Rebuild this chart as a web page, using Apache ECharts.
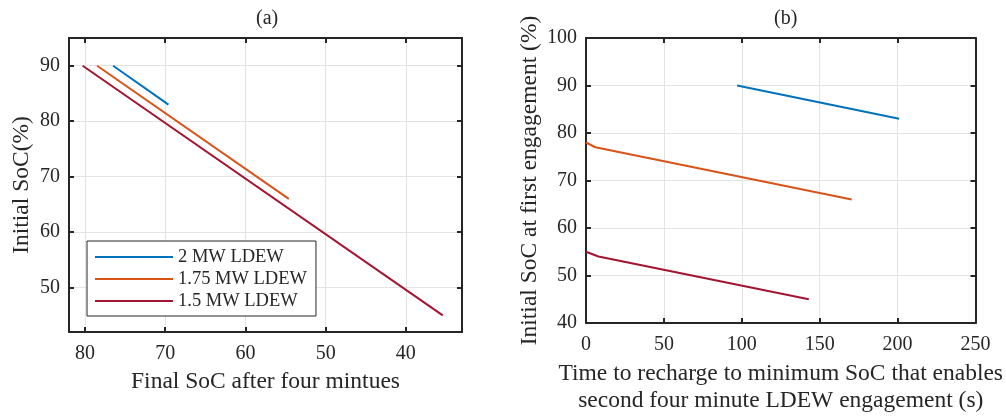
<!DOCTYPE html>
<html>
<head>
<meta charset="utf-8">
<script src="https://cdn.jsdelivr.net/npm/echarts@6/dist/echarts.min.js"></script>
<style>
html,body{margin:0;padding:0;background:#fff;}
#chart{width:1006px;height:419px;}
</style>
</head>
<body>
<div id="chart"></div>
<script>
// ---- Data ----
const seriesNames = ['2 MW LDEW', '1.75 MW LDEW', '1.5 MW LDEW'];
const colors = ['#0072BD', '#D95319', '#A2142F'];

// Panel (a): Final SoC after four minutes (x) vs Initial SoC (y)
const a_2MW_x = [76.5, 69.6];
const a_2MW_y = [90, 83];
const a_175MW_x = [78.5, 54.6];
const a_175MW_y = [90, 66];
const a_15MW_x = [80.3, 35.4];
const a_15MW_y = [90, 45];

// Panel (b): Recharge time (s) vs Initial SoC at first engagement
const b_2MW_x = [97, 201];
const b_2MW_y = [90, 83];
const b_175MW_x = [0, 6, 170.5];
const b_175MW_y = [78, 77, 66];
const b_15MW_x = [0, 8, 143];
const b_15MW_y = [55, 54, 45];

// tick labels
const a_xTicks = [40, 50, 60, 70, 80];
const a_yTicks = [50, 60, 70, 80, 90];

const zip = (xs, ys) => xs.map((x, i) => [x, ys[i]]);

const FONT = "'Liberation Serif', 'DejaVu Serif', serif";
const TXT = '#262626';
const GRIDC = '#e3e3e3';

const chart = echarts.init(document.getElementById('chart'), null, {renderer: 'canvas'});

function axisCommon(extra) {
  return Object.assign({
    type: 'value',
    axisLine: {show: true, onZero: false, lineStyle: {color: TXT, width: 2}},
    axisTick: {show: true, inside: true, length: 5, lineStyle: {color: TXT, width: 2}},
    axisLabel: {show: true, color: TXT, fontFamily: FONT, fontSize: 20},
    splitLine: {show: false},
    nameTextStyle: {color: TXT, fontFamily: FONT, fontSize: 23.5}
  }, extra);
}

const a_x_main = axisCommon({gridIndex: 0, position: 'bottom', min: 33, max: 82, inverse: true,
  name: 'Final SoC after four mintues', nameLocation: 'middle', nameGap: 38});
a_x_main.axisTick = Object.assign({}, a_x_main.axisTick, {customValues: a_xTicks});
a_x_main.axisLabel = Object.assign({}, a_x_main.axisLabel, {customValues: a_xTicks, margin: 12});
a_x_main.splitLine = {show: true, lineStyle: {color: GRIDC, width: 1}};

const a_x_top = axisCommon({gridIndex: 0, position: 'top', min: 33, max: 82, inverse: true});
a_x_top.axisTick = Object.assign({}, a_x_top.axisTick, {customValues: a_xTicks});
a_x_top.axisLabel = {show: false};

const a_y_main = axisCommon({gridIndex: 0, position: 'left', min: 42, max: 95,
  name: 'Initial SoC(%)', nameLocation: 'middle', nameGap: 35});
a_y_main.axisTick = Object.assign({}, a_y_main.axisTick, {customValues: a_yTicks});
a_y_main.axisLabel = Object.assign({}, a_y_main.axisLabel, {customValues: a_yTicks, margin: 9});
a_y_main.splitLine = {show: true, lineStyle: {color: GRIDC, width: 1}};

const a_y_right = axisCommon({gridIndex: 0, position: 'right', min: 42, max: 95});
a_y_right.axisTick = Object.assign({}, a_y_right.axisTick, {customValues: a_yTicks});
a_y_right.axisLabel = {show: false};

const b_x_main = axisCommon({gridIndex: 1, position: 'bottom', min: 0, max: 250, interval: 50,
  name: 'Time to recharge to minimum SoC that enables\nsecond four minute LDEW engagement (s)',
  nameLocation: 'middle', nameGap: 37});
b_x_main.nameTextStyle = Object.assign({}, b_x_main.nameTextStyle, {lineHeight: 27});
b_x_main.axisLabel.margin = 12;
b_x_main.splitLine = {show: true, lineStyle: {color: GRIDC, width: 1}};

const b_x_top = axisCommon({gridIndex: 1, position: 'top', min: 0, max: 250, interval: 50});
b_x_top.axisLabel = {show: false};

const b_y_main = axisCommon({gridIndex: 1, position: 'left', min: 40, max: 100, interval: 10,
  name: 'Initial SoC at first engagement (%)', nameLocation: 'middle', nameGap: 44});
b_y_main.axisLabel.margin = 9;
b_y_main.splitLine = {show: true, lineStyle: {color: GRIDC, width: 1}};

const b_y_right = axisCommon({gridIndex: 1, position: 'right', min: 40, max: 100, interval: 10});
b_y_right.axisLabel = {show: false};

function line(name, idx, data, xi, yi) {
  return {
    name: name, type: 'line', xAxisIndex: xi, yAxisIndex: yi,
    data: data, symbol: 'none', showSymbol: false, animation: false,
    lineStyle: {color: colors[idx], width: 2}, itemStyle: {color: colors[idx]}
  };
}

const option = {
  backgroundColor: '#fff',
  animation: false,
  grid: [
    {left: 69, top: 38, width: 393, height: 294, containLabel: false},
    {left: 586, top: 38, width: 394, height: 294, containLabel: false}
  ],
  xAxis: [a_x_main, a_x_top, b_x_main, b_x_top],
  yAxis: [a_y_main, a_y_right, b_y_main, b_y_right],
  legend: {
    data: seriesNames,
    orient: 'vertical',
    left: 87, top: 241,
    icon: 'rect',
    itemWidth: 78, itemHeight: 2, itemGap: 0,
    padding: [5, 9, 4, 8],
    borderColor: TXT, borderWidth: 1, borderRadius: 0,
    backgroundColor: '#fff',
    textStyle: {color: TXT, fontFamily: FONT, fontSize: 18.5, lineHeight: 22},
    selectedMode: false
  },
  graphic: [
    {type: 'text', left: 256, top: 9, style: {text: '(a)', fill: TXT, font: "20px 'Liberation Serif'"}},
    {type: 'text', left: 774, top: 9, style: {text: '(b)', fill: TXT, font: "20px 'Liberation Serif'"}}
  ],
  series: [
    line(seriesNames[0], 0, zip(a_2MW_x, a_2MW_y), 0, 0),
    line(seriesNames[1], 1, zip(a_175MW_x, a_175MW_y), 0, 0),
    line(seriesNames[2], 2, zip(a_15MW_x, a_15MW_y), 0, 0),
    line(seriesNames[0], 0, zip(b_2MW_x, b_2MW_y), 2, 2),
    line(seriesNames[1], 1, zip(b_175MW_x, b_175MW_y), 2, 2),
    line(seriesNames[2], 2, zip(b_15MW_x, b_15MW_y), 2, 2)
  ]
};
chart.setOption(option);
</script>
</body>
</html>
